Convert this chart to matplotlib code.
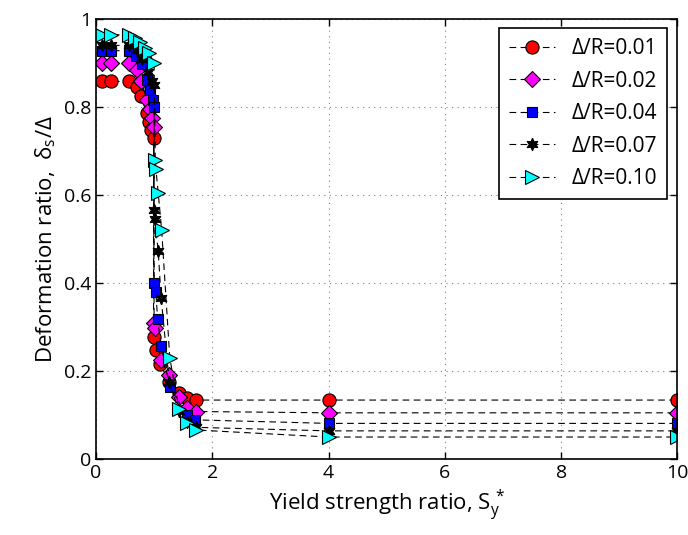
import matplotlib
matplotlib.use('Agg')
import matplotlib.pyplot as plt

plt.rcParams['font.family'] = ['Open Sans', 'DejaVu Sans']
plt.rcParams['mathtext.fontset'] = 'custom'
plt.rcParams['mathtext.rm'] = 'Open Sans'
plt.rcParams['mathtext.it'] = 'Open Sans'

# Delta/R = 0.01
x1 = [0.1, 0.25, 0.57, 0.70, 0.77, 0.87, 0.92, 0.95, 0.99, 0.99, 1.03, 1.10, 1.26, 1.42, 1.56, 1.72, 4, 10]
y1 = [0.858, 0.858, 0.858, 0.846, 0.825, 0.787, 0.765, 0.748, 0.73, 0.278, 0.248, 0.217, 0.175, 0.151, 0.138, 0.134, 0.134, 0.134]
# Delta/R = 0.02
x2 = [0.1, 0.25, 0.57, 0.70, 0.77, 0.88, 0.93, 0.96, 0.99, 1.0, 1.02, 1.11, 1.26, 1.42, 1.57, 1.72, 4, 10]
y2 = [0.899, 0.899, 0.899, 0.884, 0.858, 0.816, 0.795, 0.774, 0.755, 0.31, 0.297, 0.225, 0.191, 0.142, 0.115, 0.108, 0.105, 0.105]
# Delta/R = 0.04
x3 = [0.1, 0.25, 0.57, 0.69, 0.79, 0.87, 0.93, 0.98, 1.0, 1.0, 1.03, 1.06, 1.12, 1.27, 1.56, 1.70, 4, 10]
y3 = [0.928, 0.928, 0.928, 0.916, 0.898, 0.861, 0.839, 0.816, 0.80, 0.40, 0.38, 0.318, 0.256, 0.164, 0.10, 0.089, 0.081, 0.081]
# Delta/R = 0.07
x4 = [0.1, 0.25, 0.57, 0.70, 0.80, 0.90, 0.97, 1.0, 1.0, 1.01, 1.07, 1.12, 1.26, 1.42, 1.57, 1.72, 4, 10]
y4 = [0.94, 0.94, 0.94, 0.93, 0.91, 0.88, 0.86, 0.85, 0.566, 0.545, 0.473, 0.367, 0.176, 0.11, 0.085, 0.072, 0.064, 0.064]
# Delta/R = 0.10
x5 = [0.1, 0.25, 0.57, 0.67, 0.76, 0.84, 0.92, 1.0, 1.02, 1.03, 1.07, 1.13, 1.27, 1.43, 1.57, 1.72, 4, 10]
y5 = [0.964, 0.964, 0.964, 0.956, 0.948, 0.933, 0.922, 0.899, 0.68, 0.66, 0.605, 0.52, 0.229, 0.113, 0.083, 0.066, 0.05, 0.05]

labels = ['\u0394/R=0.01', '\u0394/R=0.02', '\u0394/R=0.04', '\u0394/R=0.07', '\u0394/R=0.10']
markers = ['o', 'D', 's', (6, 1, 0), '>']
colors = ['red', 'magenta', 'blue', 'black', 'cyan']
sizes = [9.5, 8, 7.5, 9, 9.5]

fig = plt.figure(figsize=(6.88, 5.35), dpi=100)
ax = fig.add_axes([0.1395, 0.142, 0.845, 0.8225])

for xs, ys, lab, mk, c, ms in zip([x1, x2, x3, x4, x5], [y1, y2, y3, y4, y5],
                                  labels, markers, colors, sizes):
    ax.plot(xs, ys, linestyle=(0, (6, 4)), color='black', linewidth=0.8,
            marker=mk, markersize=ms, markerfacecolor=c, markeredgecolor='black',
            markeredgewidth=0.8, label=lab)

ax.set_xlim(0, 10)
ax.set_ylim(0, 1)
ax.set_xticks([0, 2, 4, 6, 8, 10])
ax.set_yticks([0, 0.2, 0.4, 0.6, 0.8, 1])
ax.set_yticklabels(['0', '0.2', '0.4', '0.6', '0.8', '1'])
ax.grid(True, linestyle=(0, (1, 4)), color='gray', linewidth=0.8)
ax.tick_params(direction='in', top=True, right=True, labelsize=14, length=5, width=1)
for s in ax.spines.values():
    s.set_linewidth(1.2)

ax.set_xlabel('Yield strength ratio, S$_{y}^{\\,*}$', fontsize=16)
ax.set_ylabel('Deformation ratio,  $\\delta_s$/\u0394', fontsize=16)

leg = ax.legend(loc='upper right', fontsize=15, fancybox=False, framealpha=1,
                edgecolor='black', handlelength=2.2, borderpad=0.5,
                labelspacing=0.55, borderaxespad=0,
                bbox_to_anchor=(0.983, 0.98))
leg.get_frame().set_linewidth(1.2)

fig.savefig('out.png', dpi=100)
